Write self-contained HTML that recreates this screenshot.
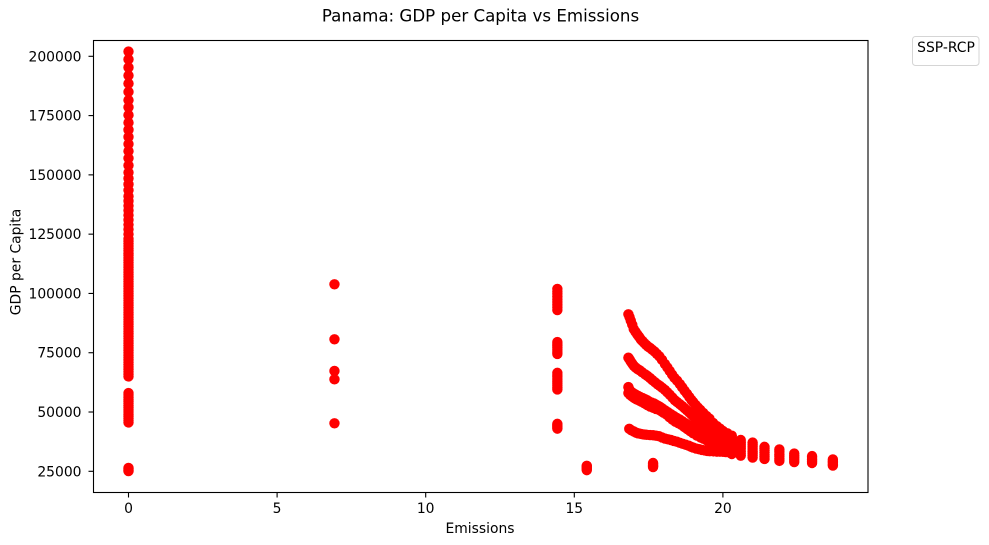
<!DOCTYPE html>
<html lang="en">
<head>
<meta charset="utf-8">
<title>Panama: GDP per Capita vs Emissions</title>
<style>
html,body{margin:0;padding:0;background:#fff;width:989px;height:545px;overflow:hidden}
svg{display:block;font-family:"DejaVu Sans","Liberation Sans",sans-serif;fill:#000}
</style>
</head>
<body>
<svg id="chart" width="989" height="545" viewBox="0 0 989 545" xmlns="http://www.w3.org/2000/svg">
  <rect x="0" y="0" width="989" height="545" fill="#fff"/>
  <text x="480.5" y="21.5" font-size="16.67" text-anchor="middle">Panama: GDP per Capita vs Emissions</text>
  <g id="marks"></g>
  <rect x="93.5" y="40.5" width="774.5" height="452" fill="none" stroke="#000" stroke-width="1.1"/>
  <g id="xticks"></g>
  <g id="yticks"></g>
  <text x="480" y="533" font-size="13.89" text-anchor="middle">Emissions</text>
  <text transform="translate(20.5 262) rotate(-90)" font-size="13.89" text-anchor="middle">GDP per Capita</text>
  <g>
    <rect x="912.5" y="36.5" width="66.5" height="29" rx="3" fill="#fff" stroke="#d5d5d5" stroke-width="1"/>
    <text x="946" y="52" font-size="13.89" text-anchor="middle">SSP-RCP</text>
  </g>
</svg>
<script>
const xTickValues = [0, 5, 10, 15, 20];
const yTickValues = [25000, 50000, 75000, 100000, 125000, 150000, 175000, 200000];

const columnZeroGdp = [202000, 198700, 195300, 191900, 188500, 185000, 181500, 178500, 175200, 172000, 169000, 166000, 163000, 160000, 157000, 154000, 151000, 148500, 146000, 143500, 141000, 139000, 137000, 135000, 133000, 131000, 129000, 127000, 125000, 123000, 122000, 121000, 120000, 119000, 118000, 117000, 116000, 115000, 114000, 113000, 112000, 111000, 110000, 109000, 108000, 107000, 106000, 105000, 104000, 103000, 102000, 101000, 100000, 99000, 98000, 97000, 96000, 95000, 94000, 93000, 92000, 91000, 90000, 89000, 88000, 87000, 86000, 85000, 84000, 83000, 82000, 81000, 80000, 79000, 78000, 77000, 76000, 75000, 74000, 73000, 72000, 71000, 70000, 69000, 68000, 67000, 66000, 65000, 58000, 57200, 56300, 55400, 54500, 53600, 52700, 51800, 50900, 50000, 49100, 48200, 47300, 46400, 45600, 26400, 26000, 25500, 25100];
const columnSevenGdp = [103860, 80660, 67300, 63800, 45240];
const columnFourteenGdp = [101900, 100800, 99800, 98600, 97500, 96400, 95200, 94100, 93000, 79500, 78700, 78000, 77100, 76200, 75300, 74500, 66500, 65600, 64800, 63900, 63000, 62100, 61200, 60300, 59500, 45000, 44500, 44000, 43500, 43000];
const columnFifteenGdp = [27300, 26900, 26400, 26000, 25500];
const columnSeventeenGdp = [28500, 28100, 27600, 27200, 26800];

const curveAEmissions = [16.82, 16.86, 16.9, 16.95, 17, 17.06, 17.12, 17.18, 17.24, 17.3, 17.36, 17.42, 17.48, 17.55, 17.62, 17.7, 17.78, 17.86, 17.95, 18.05, 18.13, 18.21, 18.29, 18.37, 18.46, 18.55, 18.63, 18.71, 18.79, 18.87, 18.94, 19, 19.08, 19.16, 19.24, 19.34, 19.45, 19.55, 19.67, 19.8, 19.9, 20, 20.15];
const curveAGdp = [91200, 90000, 88500, 86800, 85000, 83800, 82700, 81700, 80600, 79800, 79000, 78300, 77600, 77000, 76300, 75500, 74500, 73500, 72000, 70200, 68800, 67300, 65800, 64400, 63200, 61800, 60400, 59000, 57700, 56300, 55100, 54200, 53000, 51900, 50900, 49600, 48300, 47200, 45400, 44000, 43000, 42000, 41000];
const curveBEmissions = [16.82, 16.86, 16.9, 16.95, 17, 17.06, 17.13, 17.2, 17.28, 17.38, 17.46, 17.55, 17.63, 17.72, 17.8, 17.88, 17.96, 18.05, 18.13, 18.21, 18.3, 18.38, 18.46, 18.55, 18.63, 18.71, 18.79, 18.87, 18.94, 19, 19.08, 19.16, 19.24, 19.32, 19.4, 19.48, 19.56, 19.7, 19.85, 20, 20.2];
const curveBGdp = [72900, 72200, 71300, 70400, 69500, 68800, 68100, 67600, 66800, 65900, 65200, 64300, 63400, 62500, 61700, 61000, 60200, 59300, 58300, 57300, 56100, 55000, 54200, 53300, 52500, 51600, 50700, 49800, 49000, 48300, 47400, 46500, 45800, 45000, 44300, 43700, 43100, 42300, 41200, 40000, 38500];
const curveCEmissions = [16.82, 16.84, 16.87, 16.93, 17, 17.07, 17.15, 17.22, 17.3, 17.38, 17.45, 17.52, 17.6, 17.68, 17.75, 17.82, 17.88, 17.96, 18.05, 18.15, 18.25, 18.35, 18.45, 18.55, 18.65, 18.75, 18.85, 18.93, 19, 19.1, 19.2, 19.3, 19.4, 19.48, 19.56, 19.68, 19.8, 19.9, 20, 20.1, 20.2];
const curveCGdp = [60500, 59800, 59000, 58400, 57800, 57300, 56800, 56300, 55900, 55400, 55000, 54400, 54000, 53600, 53100, 52600, 52200, 51500, 50700, 49900, 49100, 48300, 47500, 46800, 46000, 45200, 44500, 43900, 43300, 42400, 41700, 41000, 40400, 40000, 39600, 39000, 38500, 37800, 37200, 36600, 36000];
const curveDEmissions = [16.82, 16.88, 16.95, 17.02, 17.1, 17.18, 17.25, 17.35, 17.45, 17.55, 17.65, 17.75, 17.85, 17.92, 18, 18.1, 18.2, 18.3, 18.4, 18.5, 18.6, 18.7, 18.8, 18.9, 19, 19.12, 19.25, 19.35, 19.46, 19.58, 19.7, 19.85, 20, 20.2];
const curveDGdp = [58000, 57200, 56500, 55900, 55300, 54900, 54400, 53700, 53000, 52300, 51800, 51300, 50900, 50400, 49700, 49000, 47800, 46800, 45900, 45300, 44600, 43700, 42800, 41900, 41000, 40100, 39300, 38700, 38000, 37400, 36800, 36100, 35500, 34600];
const curveEEmissions = [16.85, 16.92, 17, 17.08, 17.15, 17.22, 17.3, 17.37, 17.44, 17.55, 17.65, 17.75, 17.85, 17.95, 18.05, 18.15, 18.25, 18.35, 18.45, 18.55, 18.65, 18.75, 18.85, 18.93, 19, 19.1, 19.2, 19.3, 19.4, 19.48, 19.56, 19.68, 19.8, 19.9, 20, 20.1, 20.2];
const curveEGdp = [42900, 42300, 41800, 41300, 41000, 40800, 40600, 40500, 40400, 40300, 40200, 40000, 39800, 39300, 38800, 38500, 38200, 37800, 37500, 37000, 36600, 36200, 35800, 35300, 35000, 34600, 34300, 34000, 33800, 33600, 33500, 33400, 33300, 33300, 33200, 33100, 33000];

const tailEmissions = [20.3, 20.3, 20.3, 20.3, 20.3, 20.3, 20.3, 20.3, 20.3, 20.6, 20.6, 20.6, 20.6, 20.6, 20.6, 20.6, 20.6, 21, 21, 21, 21, 21, 21, 21, 21, 21.4, 21.4, 21.4, 21.4, 21.4, 21.4, 21.4, 21.9, 21.9, 21.9, 21.9, 21.9, 21.9, 22.4, 22.4, 22.4, 22.4, 22.4, 23, 23, 23, 23, 23, 23.7, 23.7, 23.7, 23.7, 23.7];
const tailGdp = [40000, 39000, 38000, 37000, 36000, 35000, 34000, 33000, 32300, 38200, 37300, 36400, 35500, 34500, 33500, 32500, 31600, 37100, 36200, 35300, 34400, 33500, 32600, 31700, 30800, 35300, 34500, 33700, 32900, 32000, 31100, 30200, 34200, 33200, 32200, 31300, 30300, 29400, 32500, 31600, 30700, 29800, 28900, 31400, 30600, 29900, 29200, 28500, 30000, 29300, 28600, 28000, 27400];

const markerRadius = 5.2;
const xOrigin = 128.5;
const xPerUnit = 29.72;
const yAt25k = 471.3;
const yPerUnit = 415 / 175000;

function sx(value) { return xOrigin + value * xPerUnit; }
function sy(value) { return yAt25k - (value - 25000) * yPerUnit; }

const NS = 'http://www.w3.org/2000/svg';
const marks = document.getElementById('marks');
const xticks = document.getElementById('xticks');
const yticks = document.getElementById('yticks');

function addPoint(emission, gdp) {
  const c = document.createElementNS(NS, 'circle');
  c.setAttribute('cx', sx(emission));
  c.setAttribute('cy', sy(gdp));
  c.setAttribute('r', markerRadius);
  c.setAttribute('fill', '#ff0000');
  
  
  marks.appendChild(c);
}

function addColumn(emission, values) {
  values.forEach(function (v) { addPoint(emission, v); });
}

function addCurve(emissions, values) {
  emissions.forEach(function (e, i) { addPoint(e, values[i]); });
}

addColumn(0, columnZeroGdp);
addColumn(6.93, columnSevenGdp);
addColumn(14.43, columnFourteenGdp);
addColumn(15.42, columnFifteenGdp);
addColumn(17.65, columnSeventeenGdp);
addCurve(curveAEmissions, curveAGdp);
addCurve(curveBEmissions, curveBGdp);
addCurve(curveCEmissions, curveCGdp);
addCurve(curveDEmissions, curveDGdp);
addCurve(curveEEmissions, curveEGdp);
addCurve(tailEmissions, tailGdp);

xTickValues.forEach(function (v) {
  const x = sx(v);
  const line = document.createElementNS(NS, 'line');
  line.setAttribute('x1', x);
  line.setAttribute('x2', x);
  line.setAttribute('y1', 492.5);
  line.setAttribute('y2', 497.5);
  line.setAttribute('stroke', '#000');
  line.setAttribute('stroke-width', '1.1');
  
  
  xticks.appendChild(line);
  const t = document.createElementNS(NS, 'text');
  t.setAttribute('x', x);
  t.setAttribute('y', 513);
  t.setAttribute('font-size', '13.89');
  t.setAttribute('text-anchor', 'middle');
  
  
  t.textContent = String(v);
  xticks.appendChild(t);
});

yTickValues.forEach(function (v) {
  const y = sy(v);
  const line = document.createElementNS(NS, 'line');
  line.setAttribute('x1', 88.5);
  line.setAttribute('x2', 93.5);
  line.setAttribute('y1', y);
  line.setAttribute('y2', y);
  line.setAttribute('stroke', '#000');
  line.setAttribute('stroke-width', '1.1');
  
  
  yticks.appendChild(line);
  const t = document.createElementNS(NS, 'text');
  t.setAttribute('x', 81.5);
  t.setAttribute('y', y + 5);
  t.setAttribute('font-size', '13.89');
  t.setAttribute('text-anchor', 'end');
  
  
  t.textContent = String(v);
  yticks.appendChild(t);
});
</script>
</body>
</html>
